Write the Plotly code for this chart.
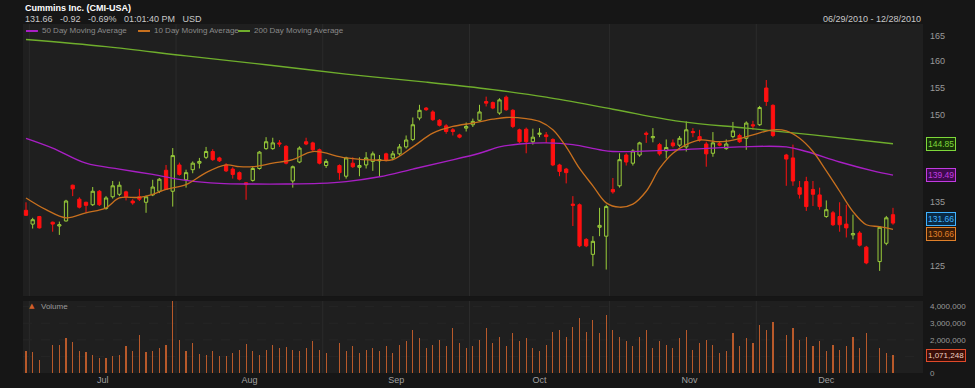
import math
import pandas as pd
import plotly.graph_objects as go

# ---------------- data ----------------
slot_dates = pd.bdate_range("2010-06-30", periods=131)

opens = [133.7, 131.5, 132.7, None, 131.8, 131.2, 132.0, 137.8, 135.5, 135.0,
         134.6, 136.8, 134.0, 135.9, 136.3, 136.7, 135.2, 135.9, 135.0, 136.2,
         136.8, 140.3, 136.8, 141.2, 138.7, 140.4, 141.5, 142.5, 143.5, 142.4,
         141.2, 140.5, 139.9, 138.2, 138.6, 140.6, 144.0, 144.0, 145.0, 144.4,
         138.5, 141.7, 145.2, 145.0, 143.8, 141.1, None, 141.1, 139.3, 141.5,
         140.8, 141.2, 141.8, 141.9, 143.1, 142.4, 143.1, 144.3, 145.6, 149.4,
         151.2, 150.5, 149.0, 148.0, 147.3, 146.4, 147.6, 148.2, 149.0, 152.4,
         152.2, 150.3, 153.2, 150.8, 147.3, 147.4, 145.2, 146.5, 146.4, 145.6,
         141.2, 140.5, 134.7, 134.6, 129.1, 126.8, 131.0, 129.6, 137.1, 137.7,
         142.9, 141.5, 142.9, 146.7, 145.9, 144.7, 143.6, 145.0, 144.6, 144.3,
         147.0, 146.1, 144.8, 143.2, 144.9, 144.0, 146.1, 146.3, 145.8, 148.2,
         148.2, 154.9, 151.7, None, 142.9, 142.4, 137.4, 138.4, 137.1, 136.2,
         132.7, 133.3, 132.7, 131.5, 129.8, 130.1, 127.9, None, 125.7, 128.5,
         133.0]
highs = [135.0, 132.5, 132.8, None, 131.9, 131.9, 135.4, 137.9, 135.8, 135.1,
         137.5, 137.0, 136.0, 138.5, 138.4, 136.9, 135.5, 137.2, 136.1, 138.7,
         139.0, 141.2, 144.1, 141.6, 140.4, 141.8, 142.4, 144.3, 143.9, 142.6,
         141.5, 140.8, 140.1, 138.3, 140.9, 143.6, 146.0, 145.9, 145.5, 144.6,
         141.1, 144.4, 145.9, 145.2, 144.0, 142.2, None, 141.3, 142.6, 142.5,
         142.5, 143.4, 143.5, 142.9, 143.3, 143.6, 144.8, 146.3, 149.5, 151.8,
         151.4, 150.8, 149.2, 148.3, 147.6, 146.6, 148.6, 149.3, 151.8, 153.3,
         152.4, 153.0, 153.5, 151.0, 147.5, 147.7, 147.5, 147.6, 146.9, 145.8,
         141.4, 140.7, 136.0, 134.8, 129.3, 129.6, 134.1, 134.6, 139.0, 143.2,
         143.2, 143.9, 145.2, 147.0, 147.6, 145.0, 145.6, 145.6, 146.2, 148.8,
         147.6, 147.3, 145.2, 146.9, 145.3, 145.6, 148.7, 146.6, 148.8, 148.9,
         151.6, 156.4, 151.9, None, 143.1, 144.7, 138.5, 139.2, 138.5, 137.4,
         135.3, 133.6, 135.0, 134.6, 133.0, 130.4, 128.1, None, 131.2, 132.8,
         134.1]
lows = [132.8, 130.8, 130.8, None, 130.3, 129.8, 131.9, 136.0, 134.0, 133.3,
        134.4, 134.4, 133.8, 135.6, 136.0, 135.3, 134.6, 135.2, 133.3, 136.0,
        136.5, 137.0, 134.3, 139.4, 137.4, 139.8, 140.6, 142.2, 141.9, 141.7,
        140.0, 138.9, 138.6, 135.4, 138.4, 140.4, 143.8, 143.8, 144.3, 141.3,
        137.4, 141.5, 144.6, 143.6, 141.3, 140.7, None, 138.7, 138.9, 140.7,
        139.3, 140.6, 140.2, 139.3, 141.8, 142.0, 142.8, 144.0, 145.3, 149.0,
        150.7, 148.9, 147.9, 146.6, 146.3, 145.8, 147.0, 147.8, 148.8, 151.5,
        151.0, 150.0, 150.7, 147.6, 145.0, 143.2, 144.7, 146.0, 145.0, 141.0,
        139.3, 138.1, 131.2, 127.9, 127.9, 125.0, 129.6, 124.5, 136.4, 137.4,
        141.1, 141.1, 142.6, 145.0, 145.1, 142.8, 142.3, 144.2, 144.3, 143.5,
        146.0, 145.2, 140.9, 142.6, 144.4, 143.8, 145.8, 145.0, 143.8, 147.3,
        148.0, 151.6, 146.0, None, 137.7, 137.7, 135.6, 133.6, 134.4, 133.8,
        132.5, 131.2, 130.3, 129.4, 129.1, 128.0, 125.3, None, 124.3, 128.2,
        131.4]
closes = [132.9, 132.2, 130.9, None, 131.5, 131.4, 135.2, 137.2, 134.2, 134.5,
          136.8, 134.6, 135.7, 137.7, 137.8, 135.9, 134.9, 135.5, 135.9, 137.5,
          138.8, 137.1, 142.8, 139.6, 139.9, 141.5, 141.8, 143.5, 142.1, 141.9,
          140.2, 139.6, 138.8, 137.9, 140.6, 143.4, 145.2, 145.0, 144.8, 141.5,
          140.9, 144.1, 144.8, 143.8, 141.5, 141.8, None, 139.9, 142.4, 140.9,
          141.1, 142.4, 143.1, 142.1, 142.1, 143.1, 144.3, 145.5, 148.2, 150.8,
          150.9, 149.1, 148.1, 147.0, 147.0, 146.0, 147.9, 148.8, 150.5, 152.1,
          151.2, 152.7, 150.9, 147.9, 145.2, 145.2, 146.0, 146.7, 146.1, 141.2,
          140.1, 139.9, 134.5, 128.1, 128.1, 128.8, 131.3, 134.3, 136.7, 142.1,
          141.7, 143.6, 145.0, 146.5, 146.1, 143.1, 144.2, 144.5, 145.8, 147.3,
          146.8, 145.5, 143.1, 145.0, 144.6, 144.8, 147.1, 145.2, 148.5, 148.0,
          151.3, 152.4, 146.3, None, 142.2, 138.5, 136.3, 134.3, 136.3, 134.3,
          133.8, 131.4, 131.4, 130.9, 130.0, 128.2, 125.5, None, 131.0, 132.5,
          131.66]
volumes = [1.31e6, 1.27e6, 0.80e6, None, 1.71e6, 1.67e6, 2.11e6, 1.87e6, 1.31e6, 1.27e6,
           1.07e6, 0.91e6, 0.91e6, 1.05e6, 1.11e6, 1.61e6, 1.31e6, 2.27e6, 1.27e6, 1.31e6,
           1.51e6, 1.67e6, 4.43e6, 2.01e6, 1.31e6, 1.81e6, 1.15e6, 1.11e6, 1.31e6, 1.01e6,
           1.05e6, 1.21e6, 1.41e6, 1.75e6, 1.31e6, 1.11e6, 1.41e6, 1.71e6, 1.51e6, 1.55e6,
           1.41e6, 1.30e6, 1.50e6, 1.90e6, 1.40e6, 1.20e6, None, 1.80e6, 1.30e6, 1.60e6,
           1.20e6, 1.40e6, 1.50e6, 1.30e6, 1.60e6, 1.20e6, 1.70e6, 1.90e6, 2.60e6, 2.10e6,
           1.50e6, 1.70e6, 2.00e6, 1.60e6, 2.70e6, 1.80e6, 1.50e6, 1.60e6, 2.00e6, 2.70e6,
           1.80e6, 2.20e6, 1.60e6, 2.40e6, 1.90e6, 2.10e6, 1.50e6, 1.30e6, 1.70e6, 2.50e6,
           2.60e6, 2.20e6, 2.80e6, 3.30e6, 2.50e6, 3.20e6, 2.40e6, 3.50e6, 2.60e6, 2.20e6,
           1.90e6, 1.60e6, 2.20e6, 2.60e6, 1.50e6, 1.90e6, 1.70e6, 1.50e6, 2.10e6, 2.60e6,
           1.40e6, 1.80e6, 2.00e6, 1.70e6, 1.20e6, 1.30e6, 2.40e6, 1.60e6, 2.10e6, 1.80e6,
           2.90e6, 2.60e6, 3.10e6, None, 2.30e6, 2.70e6, 2.00e6, 2.20e6, 1.60e6, 1.90e6,
           1.30e6, 1.70e6, 1.40e6, 1.60e6, 2.20e6, 1.50e6, 2.40e6, None, 1.50e6, 1.20e6,
           1071248]

ma10_slot = [0, 3, 6, 9, 12, 14, 17, 19, 21, 24, 27, 30, 32, 34, 37, 40, 43, 48, 53, 55,
             58, 61, 64, 67, 70, 72, 75, 77, 79, 81, 83, 85, 87, 89, 91, 93, 95, 97, 99,
             101, 104, 106, 109, 112, 114, 116, 118, 120, 122, 124, 126, 128, 130]
ma10_val = [135.7, 133.8, 132.5, 133.3, 134.1, 135.7, 135.8, 136.3, 137.1, 137.9, 139.9,
            141.2, 140.9, 140.9, 141.5, 142.1, 143.5, 142.4, 142.0, 142.1, 144.3, 146.7,
            147.9, 148.5, 149.2, 149.5, 149.3, 148.8, 147.3, 144.3, 140.6, 137.7, 134.9,
            134.2, 134.7, 136.8, 140.6, 143.2, 144.7, 145.5, 145.2, 145.5, 146.4, 147.3,
            147.1, 145.8, 143.5, 140.2, 136.8, 133.5, 131.4, 131.1, 130.66]

ma50_slot = [0, 4, 9, 14, 19, 24, 29, 34, 39, 44, 48, 53, 58, 63, 68, 71, 74, 78, 82, 86,
             88, 98, 107, 114, 117, 122, 127, 130]
ma50_val = [145.8, 144.1, 141.5, 140.5, 139.6, 138.6, 138.1, 138.0, 138.0, 138.1, 138.4,
            139.2, 140.5, 141.8, 143.2, 144.3, 144.8, 145.0, 144.7, 143.8, 143.5, 143.8,
            144.3, 144.3, 143.5, 141.7, 140.2, 139.49]

ma200_slot = [0, 12, 24, 36, 48, 60, 70, 78, 88, 98, 108, 118, 130]
ma200_val = [164.2, 162.8, 161.0, 159.3, 157.5, 156.0, 154.6, 153.2, 151.0, 148.8, 147.6,
             146.4, 144.85]

month_names = ["Jul", "Aug", "Sep", "Oct", "Nov", "Dec"]
price_grid = [125, 130, 135, 140, 145, 150, 155, 160, 165]
price_labels = [125, 135, 150, 155, 160, 165]
volume_grid = [0, 1000000, 2000000, 3000000, 4000000]
volume_labels = [0, 2000000, 3000000, 4000000]

title_text = "Cummins Inc. (CMI-USA)"
quote_text = "131.66   -0.92   -0.69%   01:01:40 PM   USD"
range_text = "06/29/2010 - 12/28/2010"
last_price = 131.66

# ---------------- derived positions ----------------
slots = list(range(len(opens)))
month_tick_pos = []
month_bounds = []
for m in range(7, 13):
    in_month = [i for i, d in enumerate(slot_dates) if d.month == m]
    month_tick_pos.append(sum(in_month) / len(in_month) + (1.0 if m == 11 else 0.0))
    if in_month[0] > 0:
        month_bounds.append(in_month[0] - 0.5)

BG = "#161616"
PANE = "#1f1f1f"
GREEN_C = "#9acd3a"
RED_C = "#ff1010"
MAG = "#a81fc4"
ORG = "#c8701e"
GRN = "#6fae2c"
VOL = "#b8592a"
FONT = "Liberation Sans, Arial, sans-serif"
GRID = "#2a2a2a"

fig = go.Figure()
fig.add_trace(go.Candlestick(
    x=slots, open=opens, high=highs, low=lows, close=closes,
    increasing=dict(line=dict(color=GREEN_C, width=1), fillcolor="rgba(0,0,0,0)"),
    decreasing=dict(line=dict(color=RED_C, width=1), fillcolor=RED_C),
    whiskerwidth=0, showlegend=False, hoverinfo="skip", xaxis="x", yaxis="y"))
fig.add_trace(go.Scatter(x=ma200_slot, y=ma200_val, mode="lines", line=dict(color=GRN, width=1.4, shape="spline"),
                         showlegend=False, hoverinfo="skip", xaxis="x", yaxis="y"))
fig.add_trace(go.Scatter(x=ma50_slot, y=ma50_val, mode="lines", line=dict(color=MAG, width=1.4, shape="spline"),
                         showlegend=False, hoverinfo="skip", xaxis="x", yaxis="y"))
fig.add_trace(go.Scatter(x=ma10_slot, y=ma10_val, mode="lines", line=dict(color=ORG, width=1.3, shape="spline"),
                         showlegend=False, hoverinfo="skip", xaxis="x", yaxis="y"))
fig.add_trace(go.Bar(x=slots, y=volumes, width=0.17, marker=dict(color=VOL, line=dict(width=0)),
                     showlegend=False, hoverinfo="skip", xaxis="x2", yaxis="y2"))

shapes = []
for b in month_bounds:
    for yr in ("y domain", "y2 domain"):
        shapes.append(dict(type="line", xref="x", yref=yr, x0=b, x1=b, y0=0, y1=1,
                           line=dict(color="#2b2b2b", width=1), layer="below"))
for v in price_grid:
    shapes.append(dict(type="line", xref="paper", yref="y", x0=0, x1=1, y0=math.log10(v), y1=math.log10(v),
                       line=dict(color=GRID, width=1, dash="dash"), layer="below"))
for v in volume_grid[1:]:
    shapes.append(dict(type="line", xref="paper", yref="y2", x0=0, x1=1, y0=v, y1=v,
                       line=dict(color="#262626", width=1, dash="dash"), layer="below"))

# legend row
leg_y = 0.98
legend_items = [("50 Day Moving Average", MAG, 0.0033), ("10 Day Moving Average", ORG, 0.1278),
                ("200 Day Moving Average", GRN, 0.2389)]
annotations = []
for name, col, x0 in legend_items:
    shapes.append(dict(type="line", xref="paper", yref="paper", x0=x0, x1=x0 + 0.0133, y0=leg_y, y1=leg_y,
                       line=dict(color=col, width=2)))
    annotations.append(dict(text=name, xref="paper", yref="paper", x=x0 + 0.0160, y=leg_y,
                            xanchor="left", yanchor="middle", showarrow=False,
                            font=dict(size=8, color="#8a8a8a", family=FONT)))

annotations += [
    dict(text="<b>" + title_text + "</b>", xref="paper", yref="paper", x=0.0, y=1.0458,
         xanchor="left", yanchor="middle", showarrow=False, font=dict(size=9, color="#ffffff", family=FONT)),
    dict(text=quote_text, xref="paper", yref="paper", x=0.0, y=1.0129,
         xanchor="left", yanchor="middle", showarrow=False, font=dict(size=9, color="#c8c8c8", family=FONT)),
    dict(text=range_text, xref="paper", yref="paper", x=1.0, y=1.0129,
         xanchor="right", yanchor="middle", showarrow=False, font=dict(size=9, color="#c8c8c8", family=FONT)),
    dict(text="▲", xref="paper", yref="y2 domain", x=0.0095, y=0.93, xanchor="center", yanchor="middle",
         showarrow=False, font=dict(size=7, color="#d0602a", family="DejaVu Sans")),
    dict(text="Volume", xref="paper", yref="y2 domain", x=0.0175, y=0.93, xanchor="left", yanchor="middle",
         showarrow=False, font=dict(size=8, color="#9a9a9a", family=FONT)),
]

def value_box(txt, yref, yval, col, bg, yshift=0, fcol=None, size=8.5):
    return dict(text=txt, xref="paper", yref=yref, x=1, y=yval, xanchor="left", yanchor="middle",
                xshift=3, yshift=yshift, showarrow=False, bgcolor=bg, bordercolor=col, borderwidth=1,
                borderpad=1, font=dict(size=size, color=fcol or col, family=FONT))

annotations += [
    value_box(f"{ma200_val[-1]:.2f}", "y", math.log10(ma200_val[-1]), "#7ed83a", "#163008"),
    value_box(f"{ma50_val[-1]:.2f}", "y", math.log10(ma50_val[-1]), "#c13be0", "#3d0a4c"),
    value_box(f"{last_price:.2f}", "y", math.log10(last_price), "#3fb2ff", "#0a2a44", yshift=4),
    value_box(f"{ma10_val[-1]:.2f}", "y", math.log10(ma10_val[-1]), "#e0802a", "#3a1c06", yshift=-5),
    value_box(f"{volumes[-1]:,.0f}", "y2", volumes[-1], "#e04a2a", "#3a0e08", fcol="#f0d0c0", size=8),
]

xr = [-0.45, 134.5]
fig.update_layout(
    width=975, height=388,
    margin=dict(l=23, r=52, t=24, b=15, autoexpand=False),
    paper_bgcolor=BG, plot_bgcolor=PANE,
    font=dict(family=FONT, color="#9a9a9a"),
    showlegend=False,
    bargap=0,
    xaxis=dict(domain=[0, 1], anchor="y", range=xr, showticklabels=False, showgrid=False,
               zeroline=False, rangeslider=dict(visible=False), fixedrange=True, automargin=False),
    xaxis2=dict(domain=[0, 1], anchor="y2", range=xr, matches="x", showgrid=False, zeroline=False,
                tickmode="array", tickvals=month_tick_pos, ticktext=month_names, ticks="",
                tickfont=dict(size=9, color="#a0a0a0"), automargin=False),
    yaxis=dict(domain=[0.2206, 1], anchor="x", type="log",
               range=[math.log10(120.6), math.log10(167.3)], side="right",
               tickmode="array", tickvals=price_labels, ticktext=[str(v) for v in price_labels],
               ticks="", ticklabelstandoff=6, tickfont=dict(size=9, color="#9a9a9a"),
               showgrid=False, zeroline=False, automargin=False),
    yaxis2=dict(domain=[0, 0.2063], anchor="x2", range=[0, 4.34e6], side="right",
                tickmode="array", tickvals=volume_labels, ticktext=[f"{v:,}" for v in volume_labels],
                ticks="", ticklabelstandoff=6, tickfont=dict(size=8, color="#9a9a9a"),
                showgrid=False, zeroline=False, automargin=False),
    shapes=shapes,
    annotations=annotations,
)

fig.write_html("out.html", config={"displayModeBar": False, "staticPlot": True},
               post_script="document.body.style.margin='0';document.body.style.background='#161616';")
